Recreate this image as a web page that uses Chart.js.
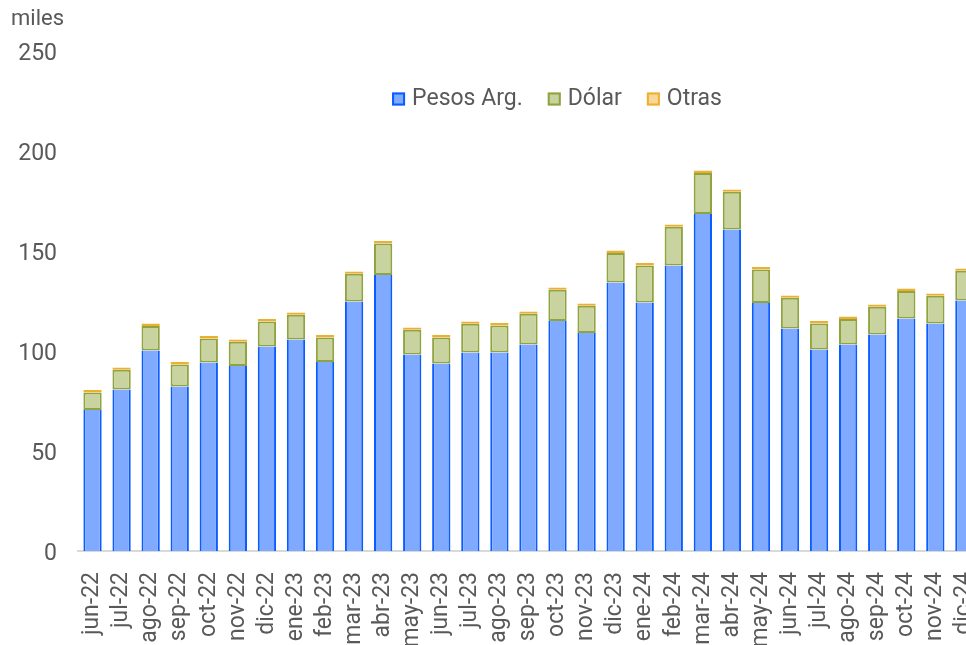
<!DOCTYPE html>
<html lang="es">
<head>
  <meta charset="UTF-8"/>
  <title>Pesos Arg. / Dólar / Otras</title>
  <script src="https://cdn.jsdelivr.net/npm/chart.js"></script>
  <style>
    html, body {
      margin: 0;
      padding: 0;
      background: #fff;
      overflow: hidden;
    }
    #wrap {
      position: relative;
      width: 1005px;
      height: 645px;
    }
  </style>
</head>
<body>
  <div id="wrap">
    <canvas id="chart" width="1005" height="645"></canvas>
  </div>
  <script>
    const months = ['jun-22','jul-22','ago-22','sep-22','oct-22','nov-22','dic-22',
      'ene-23','feb-23','mar-23','abr-23','may-23','jun-23','jul-23','ago-23','sep-23',
      'oct-23','nov-23','dic-23','ene-24','feb-24','mar-24','abr-24','may-24','jun-24',
      'jul-24','ago-24','sep-24','oct-24','nov-24','dic-24'];
    const pesos = [70.5, 80.8, 100.2, 82.2, 94.2, 92.5, 102.2, 105.8, 94.5, 124.8, 138,
      98.3, 93.8, 99.3, 99.2, 103.3, 115, 109, 134.2, 124.3, 142.7, 168.5, 160.8,
      124, 111.3, 100.8, 103.2, 108.3, 116.2, 113.8, 125.2];
    const dolar = [8.8, 9.8, 12.3, 11.1, 12.1, 12.1, 12.6, 12.3, 12.3, 13.8, 15.8,
      12.3, 13, 14.3, 13.6, 15.3, 15.6, 13.6, 14.8, 18.5, 19.4, 20.5, 18.8,
      16.8, 15.3, 13, 12.8, 13.8, 13.8, 13.8, 14.9];
    const otras = [1.2, 1.2, 1.2, 1.2, 1.2, 1.2, 1.2, 1.2, 1.2, 1.2, 1.2,
      1.2, 1.2, 1.2, 1.2, 1.2, 1.2, 1.2, 1.2, 1.2, 1.2, 1.2, 1.2,
      1.2, 1.2, 1.2, 1.2, 1.2, 1.2, 1.2, 1.2];
    const yTicks = [0, 50, 100, 150, 200, 250];
    const unitLabel = 'miles';

    const textColor = '#595959';
    const font = 'Roboto';

    // legend + "miles" drawn on top, the legend sits inside the plot area
    const overlay = {
      id: 'overlay',
      afterDraw(chart) {
        const ctx = chart.ctx;
        ctx.save();
        ctx.font = '22px ' + font;
        ctx.fillStyle = textColor;
        ctx.textBaseline = 'alphabetic';
        ctx.textAlign = 'left';
        ctx.fillText(unitLabel, 11, 25);

        ctx.font = '23px ' + font;
        ctx.textBaseline = 'middle';
        const sets = chart.data.datasets;
        const box = 13, gap = 7, spacing = 25;
        let total = 0;
        sets.forEach((d, i) => {
          total += box + gap + ctx.measureText(d.label).width;
          if (i < sets.length - 1) total += spacing;
        });
        let x = 557 - total / 2;
        const y = 99;
        sets.forEach(d => {
          ctx.fillStyle = d.backgroundColor;
          ctx.fillRect(x, y - box / 2, box, box);
          ctx.strokeStyle = d.borderColor;
          ctx.lineWidth = 2;
          ctx.strokeRect(x + 1, y - box / 2 + 1, box - 2, box - 2);
          x += box + gap;
          ctx.fillStyle = textColor;
          ctx.fillText(d.label, x, y);
          x += ctx.measureText(d.label).width + spacing;
        });
        ctx.restore();
      }
    };

    new Chart(document.getElementById('chart'), {
      type: 'bar',
      data: {
        labels: months,
        datasets: [
          { label: 'Pesos Arg.', data: pesos, backgroundColor: '#80aaff', borderColor: '#0a5cff',
            borderWidth: { top: 0, left: 2, right: 2, bottom: 0 } },
          { label: 'Dólar', data: dolar, backgroundColor: '#c9d39f', borderColor: '#8fa43f',
            borderWidth: 2, borderSkipped: false },
          { label: 'Otras', data: otras, backgroundColor: '#f8d898', borderColor: '#eeae2e',
            borderWidth: 2, borderSkipped: false }
        ]
      },
      options: {
        responsive: false,
        animation: false,
        layout: { padding: { top: 51, right: 0, bottom: 0, left: 0 } },
        datasets: { bar: { categoryPercentage: 1, barPercentage: 0.63 } },
        plugins: {
          legend: { display: false },
          tooltip: { enabled: false }
        },
        scales: {
          x: {
            stacked: true,
            grid: { display: false },
            border: { color: '#d9d9d9', width: 2 },
            ticks: {
              color: textColor,
              font: { family: font, size: 23 },
              minRotation: 90,
              maxRotation: 90,
              autoSkip: false,
              padding: 13
            },
            afterFit(scale) { scale.height = 94; }
          },
          y: {
            stacked: true,
            min: 0,
            max: 250,
            grid: { display: false },
            border: { display: false },
            afterBuildTicks(scale) { scale.ticks = yTicks.map(v => ({ value: v })); },
            ticks: {
              color: textColor,
              font: { family: font, size: 23 },
              padding: 13,
              labelOffset: 3
            },
            afterFit(scale) { scale.width = 78; }
          }
        }
      },
      plugins: [overlay]
    });
  </script>
</body>
</html>
